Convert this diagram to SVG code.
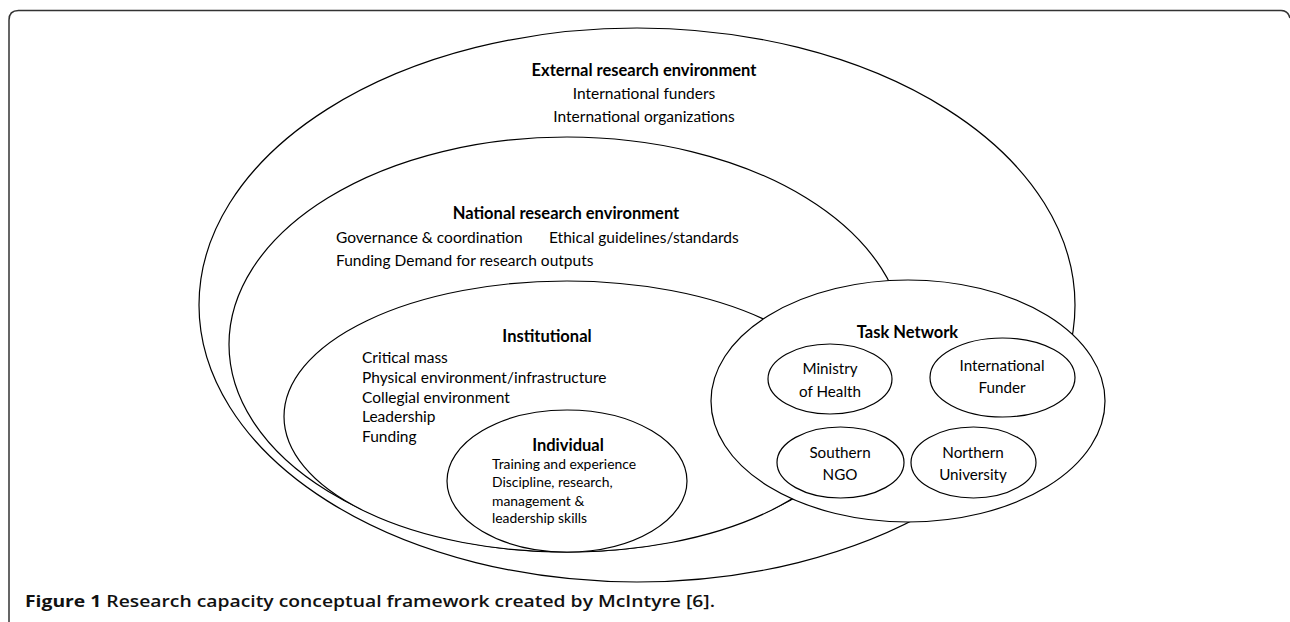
<svg xmlns="http://www.w3.org/2000/svg" width="1290" height="622" viewBox="0 0 1290 622">
<style>
.sh{fill:#fff;stroke:#000;stroke-width:1.2}
.t{font-family:Lato,"Open Sans",sans-serif;font-size:15.5px;fill:#000}
.b{font-weight:bold;font-size:16.5px}
.c{text-anchor:middle}
.s{font-size:13.9px}
.m{font-size:15.2px}
.cap{font-family:"Open Sans","DejaVu Sans",sans-serif;font-size:16.5px;font-weight:bold;fill:#111}
</style>
<rect width="1290" height="622" fill="#fff"/>
<path id="frame" d="M9,622 V20 Q9,10.5 18.5,10.5 H1281 Q1288,10.5 1290,18" fill="none" stroke="#333" stroke-width="1.5"/>
<g id="external">
<ellipse class="sh" cx="637" cy="305" rx="438" ry="277"/>
<text class="t b c" x="644" y="76">External research environment</text>
<text class="t c" x="644" y="99">International funders</text>
<text class="t c" x="644" y="122">International organizations</text>
</g>
<g id="national">
<ellipse class="sh" cx="567" cy="344.5" rx="338" ry="207.5"/>
<text class="t b c" x="566" y="219">National research environment</text>
<text class="t" x="336" y="243">Governance &amp; coordination</text>
<text class="t" x="549" y="243">Ethical guidelines/standards</text>
<text class="t" x="336" y="266">Funding  Demand for research outputs</text>
</g>
<g id="institutional">
<ellipse class="sh" cx="567" cy="416.5" rx="283" ry="135.5"/>
<text class="t b c" x="547" y="342">Institutional</text>
<text class="t" x="362" y="363">Critical mass</text>
<text class="t" x="362" y="383">Physical environment/infrastructure</text>
<text class="t" x="362" y="403">Collegial environment</text>
<text class="t" x="362" y="422">Leadership</text>
<text class="t" x="362" y="442">Funding</text>
</g>
<g id="individual">
<ellipse class="sh" cx="567" cy="481" rx="120" ry="71"/>
<text class="t b c" x="568" y="451">Individual</text>
<text class="t s" x="492" y="469">Training and experience</text>
<text class="t s" x="492" y="487">Discipline, research,</text>
<text class="t s" x="492" y="506">management &amp;</text>
<text class="t s" x="492" y="523">leadership skills</text>
</g>
<g id="task-network">
<ellipse class="sh" cx="908" cy="401" rx="197" ry="121"/>
<text class="t b c" x="907.5" y="338">Task Network</text>
</g>
<g id="ministry">
<ellipse class="sh" cx="830" cy="379" rx="62" ry="35"/>
<text class="t m c" x="830" y="374">Ministry</text>
<text class="t m c" x="830" y="397">of Health</text>
</g>
<g id="intl-funder">
<ellipse class="sh" cx="1002.5" cy="377.5" rx="72.5" ry="39.5"/>
<text class="t m c" x="1002" y="371">International</text>
<text class="t m c" x="1002" y="393">Funder</text>
</g>
<g id="southern-ngo">
<ellipse class="sh" cx="840.5" cy="462.5" rx="63.5" ry="35.5"/>
<text class="t m c" x="840" y="458">Southern</text>
<text class="t m c" x="840" y="480">NGO</text>
</g>
<g id="northern-univ">
<ellipse class="sh" cx="973.5" cy="462.5" rx="62.5" ry="35.5"/>
<text class="t m c" x="973" y="458">Northern</text>
<text class="t m c" x="973" y="480">University</text>
</g>
<g id="connectors"></g>
<text class="cap" x="25" y="607" textLength="690" lengthAdjust="spacingAndGlyphs">Figure 1 <tspan font-weight="600">Research capacity conceptual framework created by McIntyre [6].</tspan></text>
</svg>
